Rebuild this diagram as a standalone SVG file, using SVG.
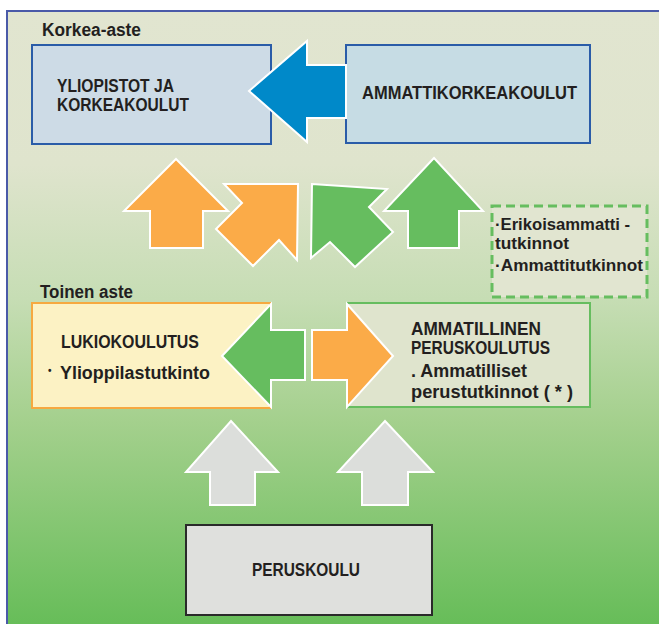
<svg xmlns="http://www.w3.org/2000/svg" width="659" height="624" viewBox="0 0 659 624">
<defs>
<linearGradient id="bg" gradientUnits="userSpaceOnUse" x1="0" y1="11" x2="0" y2="624">
<stop offset="0" stop-color="#e1e5d0"/>
<stop offset="0.25" stop-color="#dfe4cd"/>
<stop offset="0.47" stop-color="#c6ddb4"/>
<stop offset="0.67" stop-color="#a4d08d"/>
<stop offset="1" stop-color="#67bd59"/>
</linearGradient>
<style>
.t{font-family:"Liberation Sans",Arial,sans-serif;font-weight:bold;fill:#231f20}
.h{font-size:18px}
.n{font-size:18px}
.s{font-size:16px}
.arr{stroke:#ffffff;stroke-width:2;stroke-linejoin:miter}
.or{fill:#fbab48}
.gr{fill:#66bd5f}
.gy{fill:#dcdedb}
</style>
</defs>
<rect x="0" y="0" width="659" height="624" fill="#ffffff"/>
<rect x="7" y="11" width="660" height="620" fill="url(#bg)" stroke="#4a5aa8" stroke-width="2"/>

<text class="t h" x="42" y="36" textLength="99" lengthAdjust="spacingAndGlyphs">Korkea-aste</text>
<text class="t h" x="40" y="298" textLength="93" lengthAdjust="spacingAndGlyphs">Toinen aste</text>

<g id="yliopistot">
<rect x="32" y="45" width="239" height="99" fill="#cddbe6" stroke="#2a5ca8" stroke-width="2"/>
<text class="t n" x="57" y="92" textLength="117" lengthAdjust="spacingAndGlyphs">YLIOPISTOT JA</text>
<text class="t n" x="57" y="111" textLength="132" lengthAdjust="spacingAndGlyphs">KORKEAKOULUT</text>
</g>
<g id="amk">
<rect x="346" y="45" width="244" height="98" fill="#c6dce4" stroke="#2a5ca8" stroke-width="2"/>
<text class="t n" x="362" y="99" textLength="215" lengthAdjust="spacingAndGlyphs">AMMATTIKORKEAKOULUT</text>
</g>
<g id="erikois">
<rect x="492" y="206" width="155" height="91" fill="#e1e5d0" stroke="#66bd5f" stroke-width="3" stroke-dasharray="9 5"/>
<text class="t s" x="495" y="230" textLength="135" lengthAdjust="spacingAndGlyphs">·Erikoisammatti -</text>
<text class="t s" x="495" y="249" textLength="74" lengthAdjust="spacingAndGlyphs">tutkinnot</text>
<text class="t s" x="495" y="271" textLength="148" lengthAdjust="spacingAndGlyphs">·Ammattitutkinnot</text>
</g>
<g id="lukio">
<rect x="32" y="303" width="238" height="105" fill="#fcf2c4" stroke="#f6a940" stroke-width="2"/>
<text class="t n" x="61" y="348" textLength="138" lengthAdjust="spacingAndGlyphs">LUKIOKOULUTUS</text>
<text class="t" x="48" y="374" font-size="10">•</text>
<text class="t n" x="60" y="379" textLength="150" lengthAdjust="spacingAndGlyphs">Ylioppilastutkinto</text>
</g>
<g id="ammatillinen">
<rect x="347" y="303" width="243" height="104" fill="#dfe4cd" stroke="#66bd5f" stroke-width="2"/>
<text class="t n" x="411" y="335" textLength="130" lengthAdjust="spacingAndGlyphs">AMMATILLINEN</text>
<text class="t n" x="411" y="354" textLength="139" lengthAdjust="spacingAndGlyphs">PERUSKOULUTUS</text>
<text class="t n" x="411" y="377" textLength="116" lengthAdjust="spacingAndGlyphs">. Ammatilliset</text>
<text class="t n" x="411" y="398" textLength="162" lengthAdjust="spacingAndGlyphs">perustutkinnot ( * )</text>
</g>
<g id="peruskoulu">
<rect x="186" y="525" width="246" height="90" fill="#dfe0dd" stroke="#2a2a2a" stroke-width="2"/>
<text class="t n" x="252" y="576" textLength="108" lengthAdjust="spacingAndGlyphs">PERUSKOULU</text>
</g>

<g id="connectors">
<polygon class="arr" fill="#0089c9" points="249,91 307,41 307,65 346,65 346,118 307,118 307,142"/>
<polygon class="arr or" points="176,159 228,211 203,211 203,248 150,248 150,211 124,211"/>
<polygon class="arr or" points="224,184 298,184 297,260 279,240 253,266 216,229 242,203"/>
<polygon class="arr gr" points="312,184 387,189 369,207 393,232 355,267 330,242 311,258"/>
<polygon class="arr gr" points="434,158 483,211 459,211 459,248 408,248 408,211 384,211"/>
<polygon class="arr gr" points="222,356 271,304 271,330 305,330 305,380 271,380 271,407"/>
<polygon class="arr or" points="393,356 347,304 347,330 312,330 312,380 347,380 347,407"/>
<polygon class="arr gy" points="231,421 278,472 255,472 255,505 210,505 210,472 186,472"/>
<polygon class="arr gy" points="385,421 433,472 408,472 408,505 362,505 362,472 338,472"/>
</g>
</svg>
